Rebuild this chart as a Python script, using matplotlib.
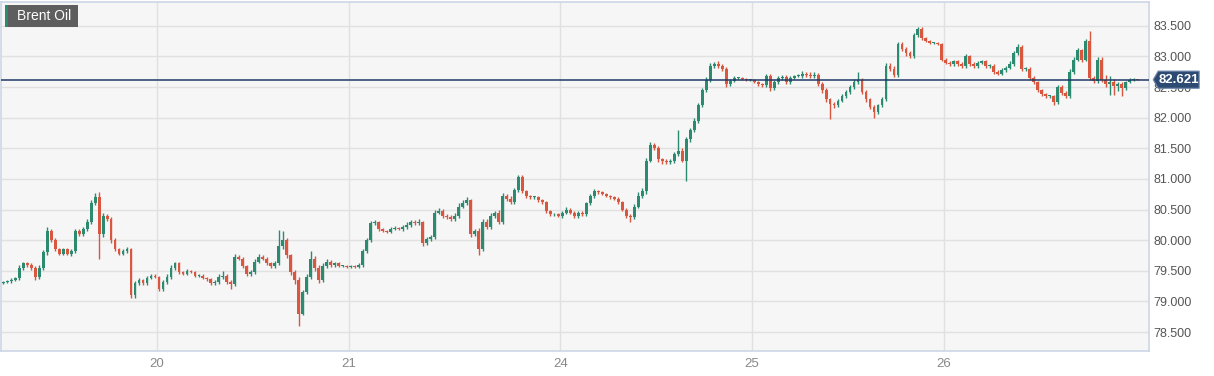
import numpy as np
import matplotlib.pyplot as plt
from matplotlib.patches import Polygon, Rectangle

plt.rcParams['font.family'] = ['Liberation Sans', 'DejaVu Sans']

# 30 minute candles, Brent Oil, close prices
first_open = 79.30
closes = [
    79.32, 79.33, 79.35, 79.38, 79.55, 79.62, 79.60, 79.55, 79.40, 79.55,
    79.80, 80.15, 80.00, 79.85, 79.78, 79.85, 79.78, 79.82, 80.15, 80.10,
    80.18, 80.30, 80.60, 80.70, 80.10, 80.40, 80.35, 80.00, 79.85, 79.78,
    79.82, 79.85, 79.10, 79.30, 79.35, 79.30, 79.38, 79.42, 79.40, 79.20,
    79.32, 79.40, 79.55, 79.62, 79.48, 79.45, 79.50, 79.48, 79.42, 79.42,
    79.38, 79.36, 79.30, 79.32, 79.40, 79.42, 79.32, 79.28, 79.72, 79.70,
    79.58, 79.45, 79.48, 79.65, 79.72, 79.70, 79.62, 79.58, 79.62, 79.90,
    80.00, 79.75, 79.48, 79.35, 78.80, 79.15, 79.40, 79.70, 79.55, 79.35,
    79.58, 79.65, 79.60, 79.62, 79.58, 79.58, 79.56, 79.58, 79.56, 79.60,
    79.82, 80.00, 80.28, 80.30, 80.18, 80.15, 80.13, 80.18, 80.20, 80.18,
    80.22, 80.25, 80.30, 80.28, 80.30, 79.95, 80.02, 80.05, 80.45, 80.48,
    80.40, 80.38, 80.35, 80.40, 80.55, 80.60, 80.65, 80.10, 80.15, 79.85,
    80.30, 80.22, 80.40, 80.45, 80.30, 80.72, 80.68, 80.62, 80.82, 81.03,
    80.80, 80.72, 80.70, 80.70, 80.65, 80.62, 80.48, 80.42, 80.42, 80.40,
    80.45, 80.50, 80.45, 80.40, 80.45, 80.42, 80.60, 80.72, 80.80, 80.78,
    80.75, 80.72, 80.70, 80.68, 80.62, 80.50, 80.40, 80.38, 80.55, 80.72,
    80.80, 81.30, 81.55, 81.50, 81.32, 81.30, 81.28, 81.30, 81.40, 81.45,
    81.30, 81.65, 81.80, 81.95, 82.20, 82.45, 82.62, 82.85, 82.88, 82.85,
    82.80, 82.55, 82.60, 82.65, 82.65, 82.63, 82.62, 82.62, 82.58, 82.55,
    82.53, 82.68, 82.48, 82.58, 82.65, 82.66, 82.58, 82.65, 82.68, 82.68,
    82.72, 82.70, 82.68, 82.70, 82.55, 82.45, 82.30, 82.22, 82.20, 82.28,
    82.35, 82.42, 82.50, 82.58, 82.62, 82.42, 82.30, 82.18, 82.10, 82.20,
    82.30, 82.85, 82.80, 82.70, 83.20, 83.12, 83.05, 83.00, 83.35, 83.45,
    83.30, 83.25, 83.22, 83.22, 83.20, 82.95, 82.90, 82.88, 82.92, 82.88,
    82.85, 83.00, 82.88, 82.85, 82.90, 82.92, 82.85, 82.85, 82.75, 82.72,
    82.78, 82.82, 82.88, 83.05, 83.15, 82.80, 82.80, 82.65, 82.58, 82.45,
    82.38, 82.35, 82.35, 82.25, 82.50, 82.40, 82.35, 82.75, 82.95, 83.10,
    82.95, 83.25, 82.65, 82.60, 82.95, 82.62, 82.55, 82.58, 82.52, 82.55,
    82.48, 82.58, 82.62, 82.63, 82.621,
]
# upper / lower wick beyond the body, in cents
wick_up = [
    2, 2, 3, 2, 4, 3, 3, 2, 3, 4,
    4, 6, 3, 3, 2, 3, 2, 3, 3, 4,
    3, 4, 5, 7, 8, 4, 3, 3, 3, 2,
    3, 4, 2, 3, 3, 2, 3, 2, 2, 2,
    3, 4, 5, 3, 2, 2, 3, 2, 2, 2,
    2, 2, 2, 3, 4, 8, 2, 3, 5, 4,
    3, 2, 3, 4, 6, 3, 2, 3, 4, 27,
    15, 4, 3, 3, 5, 4, 5, 13, 4, 5,
    4, 4, 3, 2, 2, 2, 2, 2, 2, 2,
    3, 3, 4, 3, 2, 2, 2, 3, 3, 2,
    3, 4, 3, 3, 4, 2, 3, 3, 4, 4,
    3, 3, 3, 4, 5, 5, 5, 3, 3, 5,
    4, 4, 4, 3, 4, 5, 4, 4, 4, 4,
    3, 2, 2, 2, 2, 2, 2, 2, 2, 2,
    3, 4, 3, 2, 3, 2, 3, 3, 3, 2,
    2, 2, 2, 2, 2, 2, 2, 2, 4, 6,
    5, 5, 5, 4, 3, 3, 3, 3, 4, 35,
    5, 4, 4, 4, 4, 3, 5, 5, 3, 4,
    3, 3, 3, 3, 2, 2, 2, 2, 2, 2,
    2, 4, 3, 3, 3, 4, 3, 3, 2, 3,
    4, 3, 4, 4, 3, 3, 3, 2, 3, 3,
    3, 4, 4, 5, 12, 3, 3, 3, 2, 3,
    4, 4, 5, 4, 4, 3, 3, 4, 4, 3,
    3, 2, 2, 2, 2, 2, 3, 3, 3, 3,
    3, 4, 3, 3, 3, 3, 3, 3, 2, 3,
    3, 3, 4, 4, 5, 3, 3, 3, 3, 2,
    2, 2, 2, 2, 3, 3, 3, 4, 4, 4,
    3, 4, 17, 3, 4, 4, 8, 10, 6, 4,
    3, 2, 3, 2, 1,
]
wick_dn = [
    2, 2, 3, 2, 3, 3, 3, 3, 5, 3,
    3, 4, 3, 3, 3, 3, 3, 4, 3, 3,
    3, 3, 4, 3, 40, 4, 3, 4, 3, 3,
    3, 3, 5, 4, 3, 4, 3, 2, 2, 3,
    3, 3, 3, 3, 3, 2, 2, 2, 2, 2,
    2, 3, 3, 3, 3, 3, 4, 8, 3, 3,
    3, 3, 4, 3, 3, 3, 3, 3, 3, 3,
    4, 4, 5, 6, 20, 3, 3, 4, 5, 5,
    3, 3, 3, 3, 2, 2, 2, 2, 2, 2,
    3, 3, 3, 3, 3, 2, 2, 2, 2, 2,
    3, 3, 3, 3, 3, 4, 3, 3, 3, 3,
    4, 3, 3, 3, 3, 3, 3, 4, 3, 10,
    3, 4, 3, 3, 4, 3, 4, 3, 3, 3,
    3, 3, 2, 2, 3, 3, 3, 3, 2, 2,
    3, 3, 3, 3, 3, 3, 3, 3, 3, 2,
    2, 2, 2, 3, 3, 3, 4, 8, 3, 3,
    3, 4, 3, 3, 4, 5, 4, 3, 4, 3,
    3, 33, 4, 4, 3, 3, 3, 3, 3, 4,
    3, 5, 3, 2, 2, 2, 2, 2, 2, 3,
    3, 3, 4, 3, 3, 3, 3, 3, 2, 2,
    3, 3, 3, 3, 3, 4, 4, 24, 4, 3,
    3, 3, 3, 3, 3, 3, 4, 4, 10, 4,
    3, 3, 3, 3, 3, 3, 4, 3, 3, 3,
    3, 2, 2, 2, 2, 3, 3, 3, 3, 3,
    3, 3, 4, 3, 3, 3, 3, 3, 3, 3,
    3, 3, 3, 3, 3, 3, 3, 3, 3, 3,
    3, 3, 3, 4, 3, 3, 3, 3, 3, 3,
    4, 3, 3, 4, 4, 3, 5, 18, 15, 8,
    12, 3, 2, 2, 1,
]
day_labels = ['20', '21', '24', '25', '26']
day_first_candle = [39, 87, 140, 188, 236]
last_price = 82.621
yticks = [78.5, 79.0, 79.5, 80.0, 80.5, 81.0, 81.5, 82.0, 82.5, 83.0, 83.5]

close = np.array(closes)
opn = np.r_[first_open, close[:-1]]
high = np.maximum(opn, close) + np.array(wick_up) / 100
low = np.minimum(opn, close) - np.array(wick_dn) / 100
x = np.arange(len(close))

green = '#2b8a6f'
red = '#da573f'
cols = np.where(close >= opn, green, red)

fig = plt.figure(figsize=(12.14, 3.76), dpi=100)
ax = fig.add_axes([0.001, 1 - 351 / 376, 1148 / 1214, 349 / 376])
ax.set_facecolor('#f6f6f6')

ax.vlines(x, low, high, colors=cols, linewidth=1.0, zorder=3)
body = np.maximum(np.abs(close - opn), 0.015)
ax.bar(x, body, bottom=np.minimum(opn, close), width=0.72, color=cols,
       linewidth=0, zorder=4)

ax.set_xlim(-0.5, 286.9)
ax.set_ylim(78.19, 83.89)

ax.set_yticks(yticks)
ax.set_yticklabels(['%.3f' % v for v in yticks])
ax.yaxis.tick_right()
ax.set_xticks(np.array(day_first_candle) - 0.5)
ax.set_xticklabels(day_labels)
ax.tick_params(axis='y', length=0, pad=3, labelsize=9, labelcolor='#555555')
ax.tick_params(axis='x', length=0, pad=5, labelsize=9.5, labelcolor='#888888')
ax.grid(True, color='#e1e1e1', linewidth=1.0, zorder=0)
ax.set_axisbelow(True)
for s in ax.spines.values():
    s.set_color('#cdd5e6')
    s.set_linewidth(1.2)

# current price line + label (covers the 82.500 tick like the original)
ax.axhline(last_price, color='#1e3a66', linewidth=1.1, zorder=5)
tr = ax.get_yaxis_transform()
h = 0.14
tag = Polygon([[1.0035, last_price], [1.0078, last_price + h],
               [1.0435, last_price + h], [1.0435, last_price - h],
               [1.0078, last_price - h]], closed=True, transform=tr,
              facecolor='#2c4a72', edgecolor='#7088aa', linewidth=0.8,
              clip_on=False, zorder=6)
ax.add_patch(tag)
ax.text(1.0258, last_price, '%.3f' % last_price, transform=tr, ha='center',
        va='center', color='white', fontsize=9.5, fontweight='bold',
        clip_on=False, zorder=7)

# instrument label box
fig.patches.append(Rectangle((5 / 1214, 1 - 27 / 376), 73 / 1214, 22 / 376,
                             transform=fig.transFigure, facecolor='#5e5e5e',
                             edgecolor='none', zorder=10))
fig.patches.append(Rectangle((5 / 1214, 1 - 27 / 376), 2.5 / 1214, 22 / 376,
                             transform=fig.transFigure, facecolor='#2b8a6f',
                             edgecolor='none', zorder=11))
fig.text(17 / 1214, 1 - 16 / 376, 'Brent Oil', color='white', fontsize=10,
         va='center', ha='left', zorder=12)

fig.savefig('out.png', dpi=100)
